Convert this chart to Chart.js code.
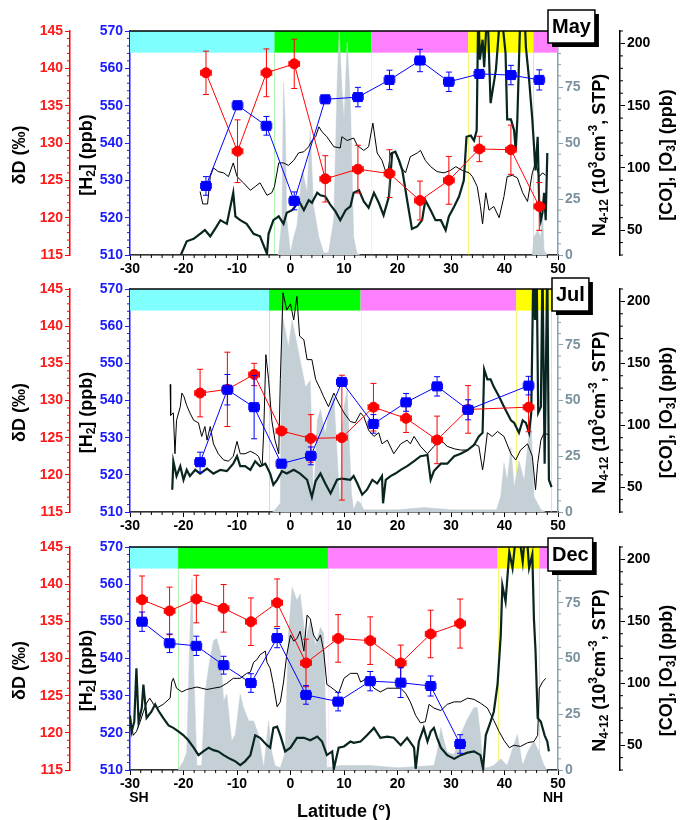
<!DOCTYPE html>
<html>
<head>
<meta charset="utf-8">
<script src="https://cdn.jsdelivr.net/npm/chart.js@4.4.0/dist/chart.umd.min.js"></script>
<style>
  body { margin: 0; background: #fff; width: 682px; height: 820px; overflow: hidden; position: relative; }
  canvas { position: absolute; left: 0; }
</style>
</head>
<body>
<canvas id="may" width="682" height="276" style="top:0"></canvas>
<canvas id="jul" width="682" height="257" style="top:276px"></canvas>
<canvas id="dec" width="682" height="287" style="top:533px"></canvas>
<script>
// tick labels
const latTicks = [-30, -20, -10, 0, 10, 20, 30, 40, 50];
const ddTicks = [115, 120, 125, 130, 135, 140, 145];
const h2Ticks = [510, 520, 530, 540, 550, 560, 570];
const nTicks = [0, 25, 50, 75];
const coTicks = [50, 100, 150, 200];
const latErr = 1.0;

// May
const mayLat = [-15.8, -9.9, -4.5, 0.7, 6.5, 12.6, 18.5, 24.2, 29.6, 35.3, 41.2, 46.5];
const mayDD = [139.4, 128.9, 139.4, 140.6, 125.2, 126.5, 125.9, 122.3, 125.0, 129.2, 129.1, 121.5];
const mayDDErr = [2.9, 4.2, 3.2, 3.3, 3.1, 3.2, 3.2, 2.6, 3.2, 1.7, 3.3, 3.2];
const mayH2 = [528.5, 550.1, 544.6, 524.5, 551.7, 552.3, 556.9, 562.1, 556.4, 558.5, 558.2, 556.9];
const mayH2Err = [2.5, 1.1, 2.5, 2.4, 0.8, 2.6, 2.6, 3.0, 2.6, 0.8, 2.6, 2.7];
const mayCO = [[-16.9,81],[-16.4,71],[-15.5,71],[-15.0,93],[-14.4,100],[-13.5,97],[-12.5,96],[-11.6,93],[-10.7,104],[-10.0,93],[-8.8,88],[-7.5,82],[-6.6,85],[-5.7,88],[-4.4,78],[-3.5,80],[-3.0,85],[-2.2,104],[-1.3,104],[-0.4,102],[0.6,106],[1.5,112],[2.5,113],[3.4,117],[4.0,122],[4.7,125],[5.3,133],[5.9,129],[6.8,125],[8.1,117],[9.3,116],[9.6,125],[10.6,122],[11.8,124],[12.5,118],[13.7,114],[14.6,117],[15.4,136],[16.2,112],[17.1,106],[18.1,93],[18.7,112],[19.6,113],[20.6,101],[21.5,96],[22.4,109],[23.7,112],[24.3,114],[25.2,106],[26.2,101],[27.4,97],[28.7,96],[29.9,98],[30.9,101],[32.1,98],[33.4,96],[34.0,93],[34.9,85],[35.5,69],[35.9,55],[36.5,80],[37.1,66],[38.0,69],[39.0,60],[39.9,77],[40.5,93],[41.5,94],[42.4,92],[43.4,80],[44.3,73],[45.2,96],[45.8,104],[46.5,93],[47.1,96],[47.7,94]];
const mayO3 = [[-20.5,30],[-19.4,41],[-18.1,43],[-16.9,47],[-16.0,50],[-15.0,45],[-13.8,53],[-13.1,58],[-11.9,55],[-10.7,80],[-10.3,61],[-9.4,58],[-8.2,55],[-6.9,47],[-5.7,45],[-4.4,31],[-4.1,47],[-3.2,58],[-2.2,61],[-1.3,55],[-0.7,64],[0.3,66],[0.9,69],[1.5,74],[2.5,66],[3.4,74],[4.0,72],[5.0,80],[5.6,78],[6.5,77],[7.5,70],[8.4,65],[9.3,58],[10.3,66],[11.2,69],[11.8,80],[12.8,82],[13.7,73],[14.6,68],[15.6,80],[16.5,72],[17.4,62],[18.4,77],[19.0,112],[19.6,113],[20.3,106],[20.9,98],[21.8,74],[22.7,51],[23.7,53],[24.6,58],[25.2,74],[26.2,66],[27.1,58],[28.1,58],[29.0,50],[29.6,61],[30.6,69],[31.5,77],[32.4,90],[32.9,125],[33.7,126],[34.3,122],[34.8,130],[35.1,230],[35.4,187],[35.9,203],[36.2,181],[36.8,230],[37.4,152],[38.4,179],[39.3,230],[40.2,192],[40.5,139],[41.2,139],[41.8,130],[42.1,114],[42.4,139],[43.0,230],[43.7,230],[44.0,197],[44.6,171],[45.2,139],[45.8,98],[46.2,125],[46.5,69],[46.8,58],[47.1,64],[47.4,80],[47.7,58],[48.0,112]];
const mayN = [[-30,0],[-2.4,0],[-2.2,1],[-1.6,16],[-1.3,77],[-1.0,60],[-0.7,16],[0.0,1],[0.6,8],[1.2,13],[2.2,38],[3.1,28],[3.7,56],[4.3,22],[5.3,8],[6.2,1],[7.1,1],[8.1,16],[8.7,75],[9.1,100],[9.6,75],[10.0,60],[10.6,95],[11.2,68],[11.8,8],[12.4,1],[13.0,0],[45.2,0],[45.5,8],[46.2,11],[46.8,8],[47.1,22],[47.4,2],[47.7,1],[48.0,0],[50,0]];
const mayBandEdges = [-30, -3.0, 15.1, 33.2, 45.4, 50];
const mayBandKinds = ['sh', 'trop', 'nh', 'strat', 'nh'];

// July
const julLat = [-16.9, -11.8, -6.8, -1.7, 3.8, 9.6, 15.5, 21.6, 27.4, 33.2, 44.5];
const julDD = [131.0, 131.5, 133.5, 125.9, 124.9, 125.0, 129.1, 127.6, 124.7, 128.8, 129.1];
const julDDErr = [3.2, 5.0, 1.5, 0.5, 3.2, 8.4, 3.2, 1.9, 3.2, 3.2, 3.3];
const julH2 = [523.4, 542.9, 538.2, 523.0, 525.1, 545.0, 533.7, 539.5, 543.8, 537.5, 544.0];
const julH2Err = [2.7, 4.1, 8.5, 1.0, 2.4, 0.9, 2.5, 2.4, 2.6, 2.7, 2.5];
const julCO = [[-22.5,133],[-22.4,108],[-21.9,110],[-21.6,77],[-21.3,104],[-20.6,115],[-20.3,126],[-19.9,123],[-19.4,116],[-18.8,110],[-18.1,104],[-17.2,102],[-16.6,91],[-16.0,99],[-15.6,88],[-15.0,99],[-14.4,85],[-13.5,77],[-12.5,72],[-11.6,71],[-10.7,75],[-10.0,87],[-9.4,77],[-8.5,77],[-7.5,79],[-6.6,77],[-6.0,75],[-5.3,67],[-5.0,96],[-4.6,157],[-4.1,137],[-3.5,104],[-2.9,88],[-2.2,77],[-1.9,137],[-1.4,207],[-0.7,193],[0.0,198],[0.6,185],[1.2,204],[1.7,172],[2.5,169],[3.1,153],[4.0,153],[4.7,137],[5.6,129],[6.2,123],[7.1,115],[8.1,126],[9.0,118],[10.0,110],[11.2,103],[12.1,102],[13.1,110],[13.7,107],[14.6,96],[15.6,91],[16.5,94],[17.1,85],[18.1,88],[19.3,77],[20.6,85],[21.8,88],[22.4,85],[23.1,91],[24.3,83],[25.6,77],[26.8,83],[28.1,88],[29.3,83],[30.6,81],[31.8,80],[33.1,80],[34.3,85],[35.2,83],[35.9,64],[36.2,72],[36.8,94],[37.7,91],[38.7,95],[39.9,91],[41.2,77],[42.1,72],[43.0,80],[44.3,85],[45.2,75],[45.8,48],[46.2,69],[46.8,88],[47.4,94],[48.3,92]];
const julO3 = [[-22.1,48],[-21.9,71],[-21.3,59],[-20.6,67],[-20.0,56],[-19.4,64],[-18.8,59],[-17.8,64],[-16.9,61],[-15.6,65],[-14.4,61],[-13.1,64],[-11.9,63],[-10.7,69],[-10.0,75],[-9.4,67],[-8.5,67],[-7.5,64],[-6.6,71],[-5.7,67],[-4.7,69],[-3.8,61],[-3.2,52],[-2.5,56],[-1.6,63],[-0.7,61],[0.6,64],[1.8,61],[3.1,56],[4.0,42],[4.7,55],[5.6,61],[6.5,53],[7.5,45],[8.7,56],[9.6,57],[11.2,56],[11.8,59],[12.5,53],[13.4,44],[14.3,48],[15.3,56],[16.2,53],[17.1,59],[17.3,37],[17.8,56],[18.7,59],[19.6,61],[20.6,64],[21.8,67],[23.1,71],[24.3,75],[25.6,76],[26.2,56],[26.8,63],[28.1,69],[29.3,69],[30.6,75],[31.8,77],[33.1,80],[34.3,84],[35.2,91],[35.9,94],[36.2,145],[36.8,137],[37.4,137],[38.0,131],[39.0,123],[39.9,115],[41.2,104],[41.8,102],[42.7,94],[43.4,104],[44.0,102],[44.6,94],[45.0,110],[45.4,230],[45.7,185],[46.0,230],[46.3,110],[46.8,115],[47.1,230],[47.5,69],[48.0,230],[48.3,56],[48.8,50]];
const julN = [[-30,0],[-3.4,0],[-2.9,1],[-1.9,4],[-1.6,89],[-1.0,82],[-0.4,74],[0.3,86],[0.9,79],[1.8,68],[2.8,56],[3.7,59],[4.3,5],[5.0,41],[5.6,46],[6.5,35],[7.1,44],[8.1,52],[8.7,26],[9.3,1],[9.6,34],[10.0,47],[10.6,55],[11.0,30],[11.4,8],[11.8,1],[12.5,5],[13.1,4],[13.7,1],[20.0,1],[25.0,2],[30.0,1],[38.5,1],[39.3,7],[39.9,22],[40.5,14],[41.2,29],[41.8,11],[42.7,23],[43.7,14],[44.3,29],[44.9,44],[45.5,7],[46.8,1],[47.7,0],[50,0]];
const julBandEdges = [-30, -4.0, 13.1, 42.2, 48.7, 50];
const julBandKinds = ['sh', 'trop', 'nh', 'strat', 'nh'];

// December
const decLat = [-27.75, -22.6, -17.6, -12.5, -7.4, -2.5, 2.9, 8.9, 14.9, 20.6, 26.2, 31.7];
const decDD = [137.9, 136.4, 138.0, 136.75, 134.95, 137.5, 129.4, 132.7, 132.4, 129.4, 133.3, 134.7];
const decDDErr = [3.2, 3.2, 3.2, 3.2, 3.2, 3.2, 3.2, 3.2, 3.2, 2.4, 3.2, 3.3];
const decH2 = [549.9, 544.1, 543.4, 538.2, 533.4, 545.5, 530.2, 528.4, 533.9, 533.5, 532.6, 517.0];
const decH2Err = [2.6, 2.5, 2.6, 2.4, 2.5, 2.6, 2.5, 2.5, 2.6, 4.0, 2.7, 2.5];
const decCO = [[-30.0,74],[-29.4,58],[-28.8,61],[-28.1,69],[-27.5,77],[-26.9,84],[-26.3,88],[-25.6,83],[-25.0,80],[-23.8,83],[-22.5,88],[-22.2,101],[-21.9,104],[-21.3,96],[-20.3,93],[-19.4,95],[-18.4,96],[-17.5,97],[-16.6,96],[-15.6,95],[-14.4,96],[-13.1,97],[-11.9,100],[-10.7,104],[-9.4,104],[-8.2,108],[-7.5,109],[-6.9,117],[-6.3,119],[-5.7,123],[-4.7,126],[-4.4,117],[-3.8,112],[-3.2,99],[-2.5,81],[-1.9,85],[-1.3,101],[-0.7,123],[0.0,139],[0.6,134],[1.2,136],[1.8,142],[2.5,126],[3.1,155],[3.7,152],[4.3,139],[5.0,134],[5.6,139],[6.2,126],[6.8,99],[7.5,97],[8.1,95],[9.0,92],[10.0,104],[11.2,108],[12.5,108],[13.1,101],[14.3,104],[15.6,96],[16.8,93],[18.1,96],[19.3,96],[20.6,96],[21.5,92],[22.4,85],[23.4,74],[24.3,68],[25.2,69],[25.9,83],[26.8,80],[28.1,78],[29.3,83],[30.6,85],[31.8,85],[33.1,88],[34.3,87],[35.5,84],[36.8,80],[38.0,70],[39.0,61],[39.9,54],[40.9,48],[41.8,50],[43.0,49],[44.3,52],[45.5,53],[46.2,58],[46.5,96],[47.1,101],[47.7,104]];
const decO3 = [[-30.0,74],[-29.7,61],[-29.2,69],[-28.8,112],[-28.4,69],[-27.8,80],[-27.5,99],[-26.9,72],[-26.0,77],[-25.3,83],[-24.7,78],[-23.8,72],[-22.8,66],[-21.9,64],[-20.9,61],[-20.0,58],[-19.1,54],[-18.1,48],[-17.2,42],[-16.3,45],[-15.3,48],[-14.4,46],[-13.5,45],[-12.5,42],[-11.3,39],[-10.3,37],[-9.4,34],[-8.5,37],[-7.5,42],[-6.6,58],[-5.7,56],[-4.4,50],[-3.8,48],[-3.2,64],[-2.5,65],[-1.9,58],[-1.0,45],[0.0,48],[1.2,56],[2.5,56],[3.7,54],[5.0,57],[5.9,53],[6.8,42],[7.8,45],[8.1,31],[9.0,48],[10.0,49],[11.2,53],[11.8,52],[13.1,53],[14.3,58],[15.6,64],[16.8,56],[18.1,57],[19.3,56],[20.6,50],[21.8,56],[23.1,48],[23.4,31],[24.0,53],[24.9,64],[25.6,53],[26.2,61],[26.8,64],[27.4,56],[28.1,48],[29.3,42],[30.6,39],[31.8,42],[33.1,44],[34.3,45],[35.5,42],[36.0,31],[36.5,58],[37.4,69],[38.0,77],[38.7,99],[39.3,139],[39.6,179],[40.2,166],[40.9,206],[41.5,193],[42.4,230],[43.4,198],[44.0,230],[44.6,193],[45.2,204],[45.5,152],[45.8,126],[46.2,72],[46.8,69],[47.5,58],[48.0,53],[48.3,45]];
const decN = [[-30,0],[-21.0,0],[-20.0,4],[-19.4,8],[-18.8,61],[-18.4,86],[-18.1,46],[-17.5,2],[-16.6,2],[-16.0,34],[-15.3,46],[-14.4,58],[-13.8,59],[-13.1,53],[-12.5,31],[-11.9,34],[-11.0,13],[-10.3,16],[-9.4,34],[-8.8,28],[-7.8,22],[-6.9,22],[-6.0,16],[-5.0,1],[-4.1,22],[-3.5,8],[-2.9,2],[-1.9,1],[-1.0,8],[-0.4,61],[0.3,82],[1.2,76],[1.8,79],[2.8,58],[3.7,67],[4.7,56],[5.6,64],[6.2,61],[6.8,1],[9.3,2],[15.0,2],[20.0,1],[26.8,2],[27.4,8],[28.1,19],[28.7,13],[29.3,8],[30.6,7],[31.8,16],[33.1,23],[34.3,28],[34.9,28],[35.5,16],[36.0,1],[36.8,1],[38.0,2],[39.3,5],[40.5,2],[42.4,16],[43.4,2],[44.3,8],[45.5,13],[46.5,8],[47.4,2],[48.0,0],[50,0]];
const decBandEdges = [-30, -21.0, 7.0, 38.7, 46.5, 50];
const decBandKinds = ['sh', 'trop', 'nh', 'strat', 'nh'];

const FONT = 'Liberation Sans, Arial, Helvetica, sans-serif';
const RED = '#ff0000', BLUE = '#0000ff', GREY = '#8aa0ac', GREYTXT = '#7b929e';
const bandColors = { sh: '#80ffff', trop: '#00ff00', nh: '#ff80ff', strat: '#ffff00' };
const bandLine = { trop: 'rgba(0,220,0,0.3)', nh: 'rgba(255,128,255,0.2)', strat: 'rgba(240,240,0,0.55)' };

Chart.defaults.font.family = FONT;
Chart.defaults.font.weight = 'bold';
Chart.defaults.font.size = 14;

const zip = (xs, ys) => xs.map((x, i) => [x, ys[i]]);

// top frame, colour bands, panel label, minor ticks, rotated axis titles
const panelPlugin = {
  id: 'panel',
  beforeDatasetsDraw(chart, args, o) {
    const { ctx, chartArea: a, scales: { x, yH } } = chart;
    const yTop = yH.getPixelForValue(570), yBot = yH.getPixelForValue(564.2);
    ctx.save();
    for (let i = 0; i < o.kinds.length; i++) {
      const x0 = x.getPixelForValue(o.edges[i]), x1 = x.getPixelForValue(o.edges[i + 1]);
      ctx.fillStyle = bandColors[o.kinds[i]];
      ctx.fillRect(x0, yTop, x1 - x0, yBot - yTop);
      const lc = bandLine[o.kinds[i]];
      if (lc && i > 0) {
        ctx.strokeStyle = lc; ctx.lineWidth = 1;
        ctx.beginPath(); ctx.moveTo(Math.round(x0) + 0.5, yBot); ctx.lineTo(Math.round(x0) + 0.5, a.bottom); ctx.stroke();
      }
      if (o.kinds[i] === 'strat') {
        ctx.strokeStyle = bandLine.strat; ctx.lineWidth = 1;
        ctx.beginPath(); ctx.moveTo(Math.round(x1) + 0.5, yBot); ctx.lineTo(Math.round(x1) + 0.5, a.bottom); ctx.stroke();
      }
    }
    ctx.restore();
  },
  beforeDatasetDraw(chart, args) {
    const ds = chart.data.datasets[args.index];
    if (!ds.errY) return;
    const { ctx } = chart;
    const ys = chart.scales[ds.yAxisID], xs = chart.scales.x;
    ctx.save();
    ctx.strokeStyle = ds.borderColor; ctx.lineWidth = 1;
    ds.data.forEach((d, i) => {
      const px = xs.getPixelForValue(d[0]), py = ys.getPixelForValue(d[1]);
      const t = ys.getPixelForValue(d[1] + ds.errY[i]), b = ys.getPixelForValue(d[1] - ds.errY[i]);
      const l = xs.getPixelForValue(d[0] - latErr), r = xs.getPixelForValue(d[0] + latErr);
      ctx.beginPath();
      ctx.moveTo(px, t); ctx.lineTo(px, b);
      ctx.moveTo(px - 3, t); ctx.lineTo(px + 3, t);
      ctx.moveTo(px - 3, b); ctx.lineTo(px + 3, b);
      ctx.moveTo(l, py); ctx.lineTo(r, py);
      ctx.moveTo(l, py - 3); ctx.lineTo(l, py + 3);
      ctx.moveTo(r, py - 3); ctx.lineTo(r, py + 3);
      ctx.stroke();
    });
    ctx.restore();
  },
  afterDraw(chart, args, o) {
    const { ctx, chartArea: a, scales } = chart;
    ctx.save();
    // top frame
    ctx.strokeStyle = '#000'; ctx.lineWidth = 1.5;
    ctx.beginPath(); ctx.moveTo(a.left, a.top); ctx.lineTo(a.right, a.top); ctx.stroke();
    // minor ticks
    Object.entries(o.minor).forEach(([id, step]) => {
      const s = scales[id];
      const majors = s.ticks.map(t => t.value);
      ctx.strokeStyle = s.options.border.color; ctx.lineWidth = 1;
      ctx.beginPath();
      for (let v = Math.ceil(s.min / step) * step; v <= s.max + 1e-9; v += step) {
        const vv = Math.round(v * 1000) / 1000;
        if (majors.some(m => Math.abs(m - vv) < 1e-6)) continue;
        const p = s.getPixelForValue(vv);
        if (id === 'x') { ctx.moveTo(p, a.bottom); ctx.lineTo(p, a.bottom + 3); }
        else if (s.position === 'left') { ctx.moveTo(s.right, p); ctx.lineTo(s.right - 3, p); }
        else { ctx.moveTo(s.left, p); ctx.lineTo(s.left + 3, p); }
      }
      ctx.stroke();
    });
    // rotated axis titles
    const cy = (a.top + a.bottom) / 2 + 12;
    o.titles.forEach(tt => drawRich(ctx, tt.segs, tt.x, cy, tt.color));
    // panel label
    ctx.font = 'bold 20px ' + FONT;
    const w = ctx.measureText(o.label).width + 8;
    const bx = o.box[0], by = o.box[1], bh = 33;
    ctx.fillStyle = '#000';
    ctx.fillRect(bx + 4, by + 4, w, bh);
    ctx.fillStyle = '#fff';
    ctx.fillRect(bx, by, w, bh);
    ctx.strokeStyle = '#000'; ctx.lineWidth = 1.5;
    ctx.strokeRect(bx, by, w, bh);
    ctx.fillStyle = '#000'; ctx.textAlign = 'center'; ctx.textBaseline = 'middle';
    ctx.fillText(o.label, bx + w / 2, by + bh / 2 + 1);
    // hemisphere labels
    if (o.hemi) {
      ctx.font = 'bold 14px ' + FONT;
      ctx.textBaseline = 'middle';
      ctx.fillText('SH', scales.x.getPixelForValue(-30) + 9, a.bottom + 28);
      ctx.fillText('NH', scales.x.getPixelForValue(50) - 5, a.bottom + 28);
    }
    ctx.restore();
  }
};

function drawRich(ctx, segs, cx, cy, color) {
  const big = 'bold 18px ' + FONT, small = 'bold 12px ' + FONT;
  ctx.save();
  ctx.translate(cx, cy);
  ctx.rotate(-Math.PI / 2);
  ctx.fillStyle = color || '#000';
  ctx.textBaseline = 'middle'; ctx.textAlign = 'left';
  let total = 0;
  segs.forEach(s => { ctx.font = s.s ? small : big; total += ctx.measureText(s.t).width; });
  let x = -total / 2;
  segs.forEach(s => {
    ctx.font = s.s ? small : big;
    const dy = s.s === 1 ? 5 : s.s === -1 ? -6 : 0;
    ctx.fillText(s.t, x, dy);
    x += ctx.measureText(s.t).width;
  });
  ctx.restore();
}

const titleSegs = {
  dd: [{ t: 'δD (‰)' }],
  h2: [{ t: '[H' }, { t: '2', s: 1 }, { t: '] (ppb)' }],
  n: [{ t: 'N' }, { t: '4-12', s: 1 }, { t: ' (10' }, { t: '3', s: -1 }, { t: 'cm' }, { t: '-3', s: -1 }, { t: ', STP)' }],
  co: [{ t: '[CO], [O' }, { t: '3', s: 1 }, { t: '] (ppb)' }]
};

const fixedTicks = arr => s => { s.ticks = arr.map(v => ({ value: v })); };

function yAxis(position, min, max, ticks, color, txtColor, width) {
  return {
    type: 'linear', position, min, max,
    afterBuildTicks: fixedTicks(ticks),
    afterFit: s => { s.width = width; },
    ticks: { color: txtColor, padding: 2, autoSkip: false, font: { size: 14, weight: 'bold' } },
    grid: { drawOnChartArea: false, drawTicks: true, tickLength: 5, color },
    border: { color, width: 1.5 }
  };
}

function makePanel(id, p) {
  new Chart(document.getElementById(id), {
    type: 'line',
    data: {
      datasets: [
        { data: zip(p.lat, p.h2), errY: p.h2Err, yAxisID: 'yH', order: 1, borderColor: BLUE, backgroundColor: BLUE,
          borderWidth: 1, pointStyle: 'rect', pointRadius: 6.4, tension: 0 },
        { data: zip(p.lat, p.dd), errY: p.ddErr, yAxisID: 'yD', order: 2, borderColor: RED, backgroundColor: RED,
          borderWidth: 1, pointStyle: 'circle', pointRadius: 5, tension: 0 },
        { data: p.o3, yAxisID: 'yC', order: 3, borderColor: '#082520', borderWidth: 2.2, pointRadius: 0, tension: 0 },
        { data: p.co, yAxisID: 'yC', order: 4, borderColor: '#000', borderWidth: 1, pointRadius: 0, tension: 0 },
        { data: p.n, yAxisID: 'yN', order: 5, borderColor: '#c4cfd6', backgroundColor: '#c4cfd6', borderWidth: 0.5,
          pointRadius: 0, fill: 'origin', tension: 0 }
      ]
    },
    options: {
      responsive: false, animation: false, events: [],
      layout: { padding: { top: p.padTop, left: 0, right: 0, bottom: 0 } },
      plugins: {
        legend: { display: false }, tooltip: { enabled: false },
        panel: {
          edges: p.edges, kinds: p.kinds, label: p.label, box: p.box, hemi: p.hemi,
          minor: { x: 2, yD: 1, yH: 2, yN: 5, yC: 10 },
          titles: [
            { segs: titleSegs.dd, x: 20 }, { segs: titleSegs.h2, x: 87 },
            { segs: titleSegs.n, x: 600 }, { segs: titleSegs.co, x: 667 }
          ]
        }
      },
      scales: {
        x: {
          type: 'linear', position: 'bottom', min: -30, max: 50,
          afterBuildTicks: fixedTicks(latTicks),
          afterFit: s => { s.height = p.xH; },
          ticks: { color: '#000', padding: 1, autoSkip: false, maxRotation: 0, font: { size: 14, weight: 'bold' } },
          grid: { drawOnChartArea: false, drawTicks: true, tickLength: 5, color: '#000' },
          border: { color: '#000', width: 1.5 },
          title: { display: !!p.xTitle, text: p.xTitle || '', color: '#000', font: { size: 18, weight: 'bold' }, padding: { top: 0, bottom: -3 } }
        },
        yH: yAxis('left', 510, 570, h2Ticks, '#1a1aff', '#1a1aff', 60),
        yD: yAxis('left', 115, 145, ddTicks, RED, '#ff1a1a', 70),
        yN: yAxis('right', 0, 100, nTicks, GREY, GREYTXT, 62),
        yC: yAxis('right', 30, 210, coTicks, '#000', '#000', 62)
      }
    },
    plugins: [panelPlugin]
  });
}

makePanel('may', { lat: mayLat, dd: mayDD, ddErr: mayDDErr, h2: mayH2, h2Err: mayH2Err, co: mayCO, o3: mayO3, n: mayN,
  edges: mayBandEdges, kinds: mayBandKinds, label: 'May', box: [548, 10], padTop: 31, xH: 21 });
makePanel('jul', { lat: julLat, dd: julDD, ddErr: julDDErr, h2: julH2, h2Err: julH2Err, co: julCO, o3: julO3, n: julN,
  edges: julBandEdges, kinds: julBandKinds, label: 'Jul', box: [552, 2], padTop: 13, xH: 21 });
makePanel('dec', { lat: decLat, dd: decDD, ddErr: decDDErr, h2: decH2, h2Err: decH2Err, co: decCO, o3: decO3, n: decN,
  edges: decBandEdges, kinds: decBandKinds, label: 'Dec', box: [548, 5], padTop: 14, xH: 50, xTitle: 'Latitude (°)', hemi: true });
</script>
</body>
</html>
